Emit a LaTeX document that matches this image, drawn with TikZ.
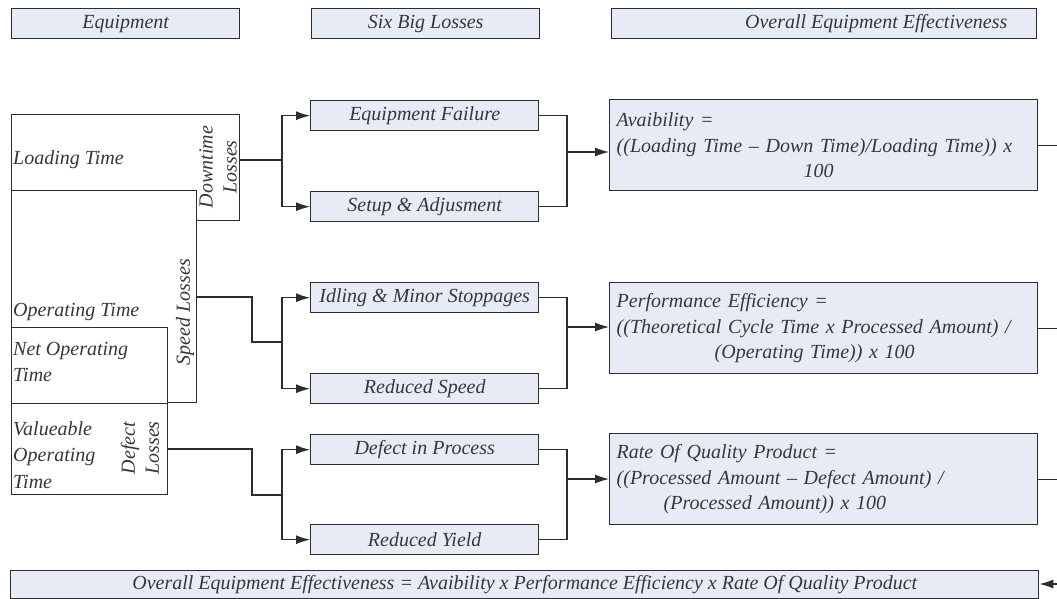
\documentclass[tikz,border=0pt]{standalone}
\usepackage{fontspec}
\setmainfont{Liberation Serif}
\usetikzlibrary{arrows.meta,calc}
\definecolor{boxfill}{RGB}{230,235,246}
\definecolor{edge}{RGB}{45,45,45}
\definecolor{ink}{RGB}{55,55,55}
\begin{document}
\begin{tikzpicture}[x=1pt,y=-1pt,
  every node/.style={font=\fontsize{20}{25.5}\selectfont\itshape, text=ink},
  hbox/.style={draw=edge, line width=1.4pt, fill=boxfill, inner sep=0pt, anchor=north west},
  sbox/.style={hbox, minimum width=228pt, minimum height=30pt},
  fbox/.style={hbox, minimum height=91pt, text width=414pt, align=left, inner xsep=7pt},
  lbox/.style={draw=edge, line width=1.2pt, fill=white, inner sep=0pt, anchor=north west},
  lbl/.style={inner sep=0pt, anchor=west, align=left},
  rot/.style={inner sep=0pt, rotate=90, align=center, font=\fontsize{20}{24}\selectfont\itshape},
  wire/.style={draw=edge, line width=1.2pt},
  conn/.style={wire, -{Latex[length=14pt,width=9pt]}}]
\useasboundingbox (0,0) rectangle (1057,599);

% headers
\node[sbox] (hEq) at (11,8) {Equipment};
\node[sbox] (hSix) at (311,8) {Six Big Losses};
\node[hbox, minimum width=425pt, minimum height=30pt] (hOee) at (611,8) {\hspace*{104pt}Overall Equipment Effectiveness};

% left nested boxes
\node[lbox, minimum width=228pt, minimum height=106pt] (load) at (11,114) {};
\node[lbox, minimum width=185pt, minimum height=212pt] (op) at (11,190) {};
\node[lbox, minimum width=156pt, minimum height=76pt] (net) at (11,327) {};
\node[lbox, minimum width=156pt, minimum height=91pt] (val) at (11,403) {};

\node[lbl] (tLoad) at (13,160) {Loading Time};
\node[lbl] (tOp) at (13,312) {Operating Time};
\node[lbl, font=\fontsize{20}{26}\selectfont\itshape] (tNet) at (13,362) {Net Operating\\Time};
\node[lbl, font=\fontsize{20}{26.5}\selectfont\itshape] (tVal) at (13,455) {Valueable\\Operating\\Time};

\node[rot] (tDown) at (218,167) {Downtime\\Losses};
\node[rot] (tSpeed) at (185,312) {Speed Losses};
\node[rot] (tDef) at (140,448) {Defect\\Losses};

% six big losses
\node[sbox] (ef) at (310,100) {Equipment Failure};
\node[sbox] (sa) at (310,191) {Setup \& Adjusment};
\node[sbox] (idle) at (310,282) {Idling \& Minor Stoppages};
\node[sbox] (rs) at (310,373) {Reduced Speed};
\node[sbox] (dip) at (310,434) {Defect in Process};
\node[sbox] (ry) at (310,524) {Reduced Yield};

% formula boxes
\node[fbox] (av) at (609,99) {Avaibility =\\((Loading Time – Down Time)/Loading Time)) x\\\hspace*{187pt}100};
\node[fbox] (pe) at (609,282) {Performance Efficiency =\\((Theoretical Cycle Time x Processed Amount) /\\\hspace*{98pt}(Operating Time)) x 100};
\node[fbox] (rq) at (609,433) {Rate Of Quality Product =\\((Processed Amount – Defect Amount) /\\\hspace*{47pt}(Processed Amount)) x 100};

\node[hbox, minimum width=1028pt, minimum height=28pt] (oee) at (10,570) {Overall Equipment Effectiveness = Avaibility x Performance Efficiency x Rate Of Quality Product};

% coordinates
\coordinate (f1) at (282,160);
\coordinate (s1) at (252,297);
\coordinate (f2) at (282,342);
\coordinate (d1) at (252,449);
\coordinate (f3) at (282,495);
\coordinate (j1) at (567,152);
\coordinate (j2) at (567,327);
\coordinate (j3) at (567,479);
\coordinate (rEdge) at (1057,0);
\coordinate (rIn) at (1057,584);

% group 1
\draw[wire] (load.east |- f1) -- (f1);
\draw[conn] (f1) |- (ef.west);
\draw[conn] (f1) |- (sa.west);
\draw[wire] (ef.east) -| (j1);
\draw[wire] (sa.east) -| (j1);
\draw[conn] (j1) -- (av.west |- j1);

% group 2
\draw[wire] (op.east |- s1) -- (s1) |- (f2);
\draw[conn] (f2) |- (idle.west);
\draw[conn] (f2) |- (rs.west);
\draw[wire] (idle.east) -| (j2);
\draw[wire] (rs.east) -| (j2);
\draw[conn] (j2) -- (pe.west |- j2);

% group 3
\draw[wire] (val.east |- d1) -- (d1) |- (f3);
\draw[conn] (f3) |- (dip.west);
\draw[conn] (f3) |- (ry.west);
\draw[wire] (dip.east) -| (j3);
\draw[wire] (ry.east) -| (j3);
\draw[conn] (j3) -- (rq.west |- j3);

% right side
\draw[wire] (av.east) -- (av.east -| rEdge);
\draw[wire] (pe.east) -- (pe.east -| rEdge);
\draw[wire] (rq.east) -- (rq.east -| rEdge);
\draw[conn] (rIn) -- (oee.east |- rIn);
\end{tikzpicture}
\end{document}
